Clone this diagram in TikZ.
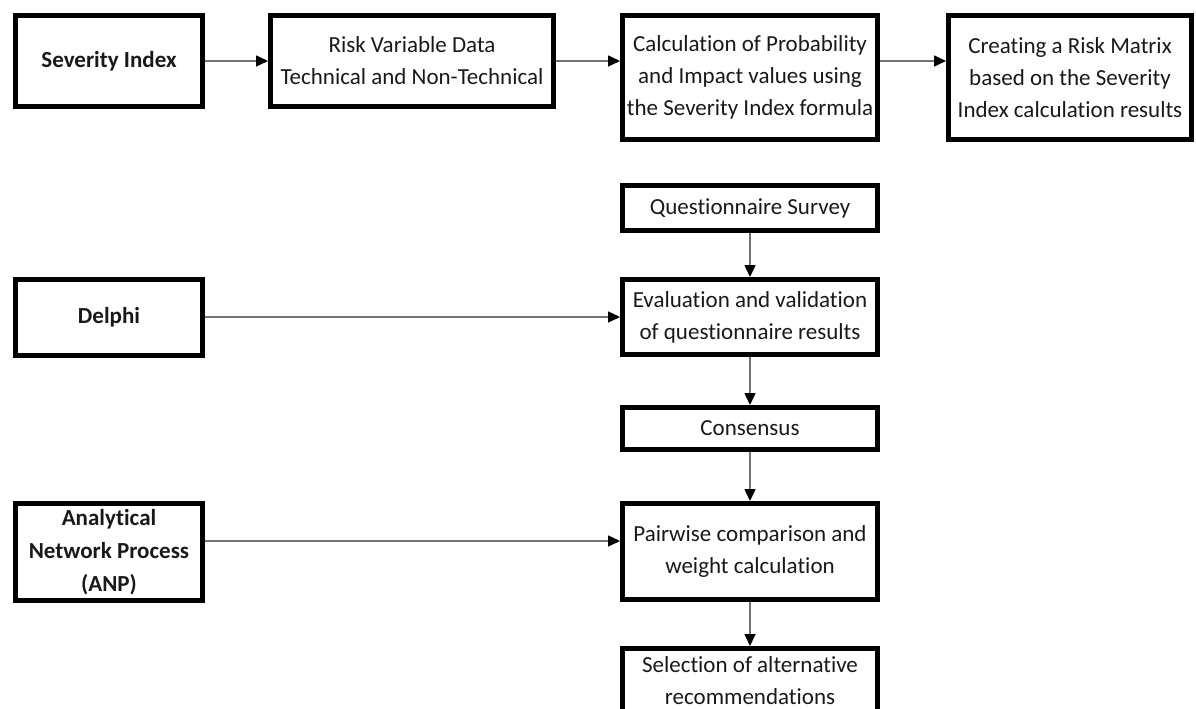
\documentclass[tikz,border=0pt]{standalone}
\usepackage{fontspec}
\setmainfont{Carlito}[RawFeature={-liga;-clig;-calt;-dlig}]
\usepackage{xcolor}
\usepackage{tikz}
\usetikzlibrary{positioning,arrows.meta}

\tikzset{
	stage/.style={draw, line width=5pt, align=center, inner sep=2pt, text=black!90, font=\fontsize{23}{32}\selectfont},
	method/.style={stage, font=\fontsize{23}{33}\selectfont\bfseries},
	flow/.style={-{Triangle[length=12pt,width=11pt,color=black]}, line width=1.6pt, draw=black!55}
}

\begin{document}
\begin{tikzpicture}[x=1pt, y=-1pt]
		\useasboundingbox (0,0) rectangle (1196,709);

		\node[method, minimum width=187pt, minimum height=91pt] (sev) at (109,61) {Severity Index};
		\node[stage, minimum width=283pt, minimum height=91pt] (rvd) at (412,61) {Risk Variable Data\\Technical and Non-Technical};
		\node[stage, minimum width=255pt, minimum height=124pt] (prob) at (750,77.5) {Calculation of Probability\\and Impact values using\\the Severity Index formula};
		\node[stage, minimum width=243pt, minimum height=124pt] (matrix) at (1070,77.5) {Creating a Risk Matrix\\based on the Severity\\Index calculation results};

		\node[stage, minimum width=255pt, minimum height=45pt] (quest) at (750,208) {Questionnaire Survey};
		\node[stage, minimum width=255pt, minimum height=75pt] (eval) at (750,317) {Evaluation and validation\\of questionnaire results};
		\node[method, minimum width=187pt, minimum height=76pt] (delphi) at (109,317) {Delphi};
		\node[stage, minimum width=255pt, minimum height=42pt] (cons) at (750,428.5) {Consensus};
		\node[stage, minimum width=255pt, minimum height=96pt] (pair) at (750,551.5) {Pairwise comparison and\\weight calculation};
		\node[method, minimum width=187pt, minimum height=97pt] (anp) at (109,552) {Analytical\\Network Process\\(ANP)};
		\node[stage, minimum width=255pt, minimum height=65pt] (sel) at (750,681) {Selection of alternative\\recommendations};

		\draw[flow] (sev) edge (rvd);
		\draw[flow] (rvd.east) -- (rvd.east -| prob.west);
		\draw[flow] (prob.east |- rvd.east) -- (rvd.east -| matrix.west);

		\draw[flow] (quest) edge (eval);
		\draw[flow] (delphi) edge (eval);
		\draw[flow] (eval) edge (cons);
		\draw[flow] (cons) edge (pair);
		\draw[flow] ([yshift=11pt]anp.east) -- ([yshift=11pt]anp.east -| pair.west);
		\draw[flow] (pair) edge (sel);
	\end{tikzpicture}
\end{document}
